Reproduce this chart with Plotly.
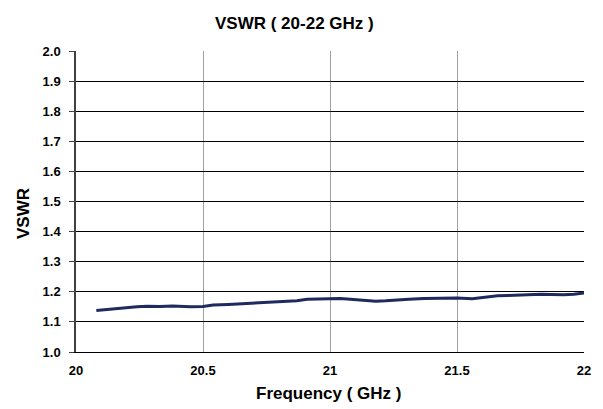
import plotly.graph_objects as go

freq = [20.08, 20.13, 20.19, 20.24, 20.28, 20.33, 20.38, 20.45, 20.50, 20.54,
        20.60, 20.65, 20.71, 20.78, 20.84, 20.87, 20.91, 20.96, 21.00, 21.04,
        21.08, 21.13, 21.18, 21.22, 21.26, 21.31, 21.37, 21.45, 21.50, 21.56,
        21.61, 21.66, 21.70, 21.74, 21.78, 21.83, 21.87, 21.92, 21.96, 22.00]
vswr = [1.138, 1.142, 1.148, 1.150, 1.152, 1.151, 1.153, 1.150, 1.151, 1.156,
        1.158, 1.160, 1.162, 1.166, 1.167, 1.170, 1.175, 1.176, 1.177, 1.178,
        1.175, 1.172, 1.169, 1.170, 1.173, 1.175, 1.178, 1.180, 1.179, 1.177,
        1.182, 1.187, 1.188, 1.190, 1.190, 1.192, 1.191, 1.190, 1.192, 1.196]

x_ticks = [20, 20.5, 21, 21.5, 22]
x_labels = ["20", "20.5", "21", "21.5", "22"]
y_ticks = [1.0 + 0.1 * i for i in range(11)]

font = "Liberation Sans, Arial, sans-serif"

# plot area on screen (page has 8px body margin)
PL, PR, PT, PB = 76, 584, 51, 352


def px(sx):
    return (sx - PL) / (PR - PL)


def py(sy):
    return (PB - sy) / (PB - PT)


fig = go.Figure(go.Scatter(x=freq, y=vswr, mode="lines",
                           line=dict(color="#1f2a5e", width=3),
                           hoverinfo="skip"))

fig.update_layout(
    width=603, height=409,
    margin=dict(l=PL - 8, r=603 - (PR - 8), t=PT - 8, b=409 - (PB - 8)),
    paper_bgcolor="white", plot_bgcolor="white",
    showlegend=False,
    font=dict(family=font, color="black"),
    annotations=[
        dict(text="<b>VSWR ( 20-22 GHz )</b>", xref="paper", yref="paper",
             x=px(294), y=py(23), xanchor="center", yanchor="middle",
             showarrow=False, font=dict(size=17)),
        dict(text="<b>Frequency ( GHz )</b>", xref="paper", yref="paper",
             x=px(328), y=py(393), xanchor="center", yanchor="middle",
             showarrow=False, font=dict(size=17)),
        dict(text="<b>VSWR</b>", xref="paper", yref="paper", textangle=-90,
             x=px(23), y=py(214), xanchor="center", yanchor="middle",
             showarrow=False, font=dict(size=17)),
    ],
)
fig.update_xaxes(range=[20, 22], tickvals=x_ticks, ticktext=["<b>%s</b>" % t for t in x_labels],
                 showgrid=True, gridcolor="#a0a0a0", gridwidth=1,
                 showline=True, linecolor="black", linewidth=1,
                 ticks="", zeroline=False, tickfont=dict(size=13),
                 ticklabelstandoff=6)
fig.update_yaxes(range=[1.0, 2.0], tickvals=y_ticks, ticktext=["<b>%.1f</b>" % v for v in y_ticks],
                 showgrid=True, gridcolor="black", gridwidth=1,
                 showline=True, linecolor="#404040", linewidth=1.5,
                 ticks="outside", ticklen=5, tickcolor="#404040",
                 zeroline=False, tickfont=dict(size=13),
                 ticklabelstandoff=6)

fig.write_html("out.html")
